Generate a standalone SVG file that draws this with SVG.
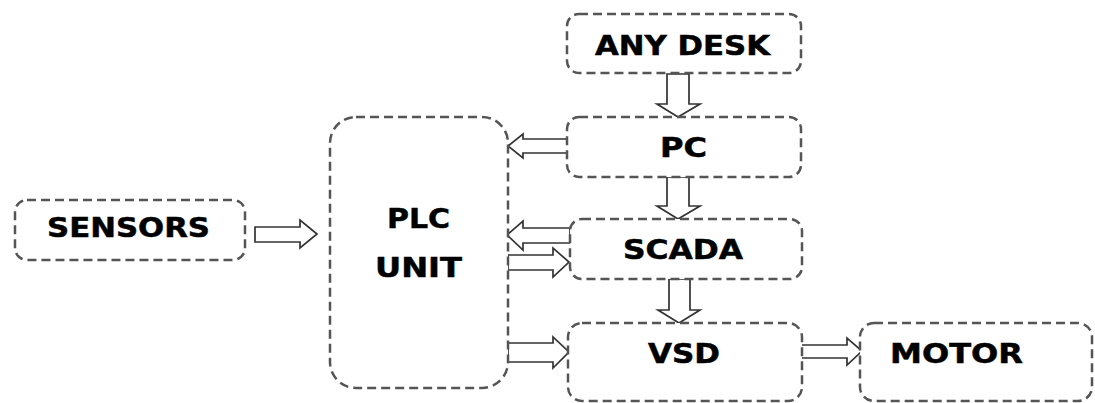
<svg xmlns="http://www.w3.org/2000/svg" width="1095" height="403" viewBox="0 0 1095 403">
<style>
.box{fill:#fff;stroke:#555;stroke-width:2.5;stroke-dasharray:9 5}
.lbl{font-family:"DejaVu Sans",Verdana,sans-serif;font-weight:bold;font-size:27px;fill:#000;stroke:#000;stroke-width:0.5}
.arr{fill:#fff;stroke:#333;stroke-width:1.7;stroke-linejoin:miter}
</style>
<rect width="1095" height="403" fill="#fff"/>
<g id="connectors">
<path class="arr" d="M667,74 L689,74 L689,104 L700,104 L678,117 L657,104 L667,104 Z"/>
<path class="arr" d="M667,177 L689,177 L689,206 L700,206 L678,219 L657,206 L667,206 Z"/>
<path class="arr" d="M669,279 L690,279 L690,310 L700,310 L679,323 L658,310 L669,310 Z"/>
<path class="arr" d="M569,139 L523,139 L523,134 L508,146 L523,158 L523,153 L569,153 Z"/>
<path class="arr" d="M570,228 L523,228 L523,221 L507,235 L523,250 L523,243 L570,243 Z"/>
<path class="arr" d="M508,255 L553,255 L553,248 L569,262 L553,277 L553,270 L508,270 Z"/>
<path class="arr" d="M508,343 L553,343 L553,337 L569,352 L553,368 L553,362 L508,362 Z"/>
<path class="arr" d="M255,227 L300,227 L300,220 L317,234 L300,248 L300,242 L255,242 Z"/>
<path class="arr" d="M800,345 L847,345 L847,338 L862,351 L847,365 L847,358 L800,358 Z"/>
</g>
<g id="anydesk"><rect class="box" x="567" y="14" width="234" height="59" rx="12"/><text class="lbl" x="595" y="55" textLength="175" lengthAdjust="spacingAndGlyphs">ANY DESK</text></g>
<g id="pc"><rect class="box" x="567" y="117" width="234" height="60" rx="12"/><text class="lbl" x="660" y="157" textLength="47" lengthAdjust="spacingAndGlyphs">PC</text></g>
<g id="scada"><rect class="box" x="570" y="219" width="232" height="60" rx="12"/><text class="lbl" x="623" y="259" textLength="120" lengthAdjust="spacingAndGlyphs">SCADA</text></g>
<g id="vsd"><rect class="box" x="568" y="323" width="234" height="78" rx="14"/><text class="lbl" x="648" y="363" textLength="72" lengthAdjust="spacingAndGlyphs">VSD</text></g>
<g id="plc"><rect class="box" x="330" y="117" width="178" height="271" rx="26"/><text class="lbl" x="387" y="228" textLength="63" lengthAdjust="spacingAndGlyphs">PLC</text><text class="lbl" x="375" y="277" textLength="87" lengthAdjust="spacingAndGlyphs">UNIT</text></g>
<g id="sensors"><rect class="box" x="15" y="200" width="230" height="60" rx="12"/><text class="lbl" x="47" y="237" textLength="163" lengthAdjust="spacingAndGlyphs">SENSORS</text></g>
<g id="motor"><rect class="box" x="860" y="323" width="232" height="78" rx="14"/><text class="lbl" x="890" y="363" textLength="133" lengthAdjust="spacingAndGlyphs">MOTOR</text></g>
</svg>
